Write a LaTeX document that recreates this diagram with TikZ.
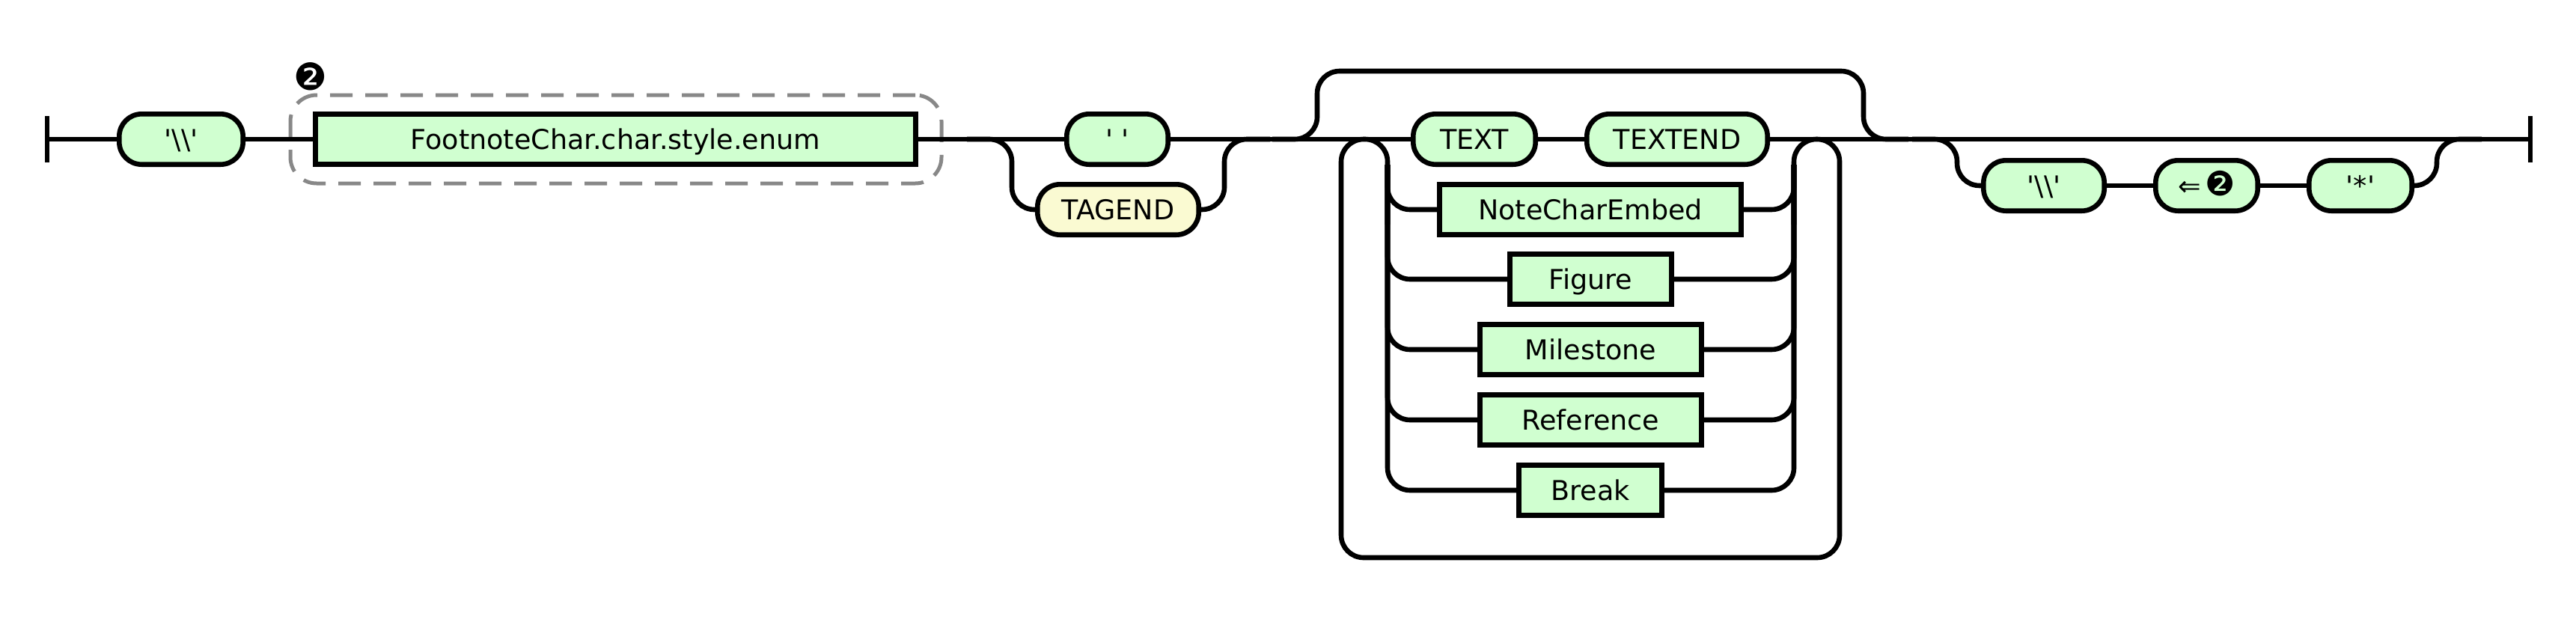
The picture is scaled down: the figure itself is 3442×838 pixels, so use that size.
\documentclass[tikz,border=0pt]{standalone}
\usepackage{fontspec}
\newfontfamily\rrfont{DejaVu Sans}
\definecolor{termgreen}{HTML}{D0FFD0}
\definecolor{tagyellow}{HTML}{FAFAD2}
\definecolor{grpgray}{HTML}{888888}
\begin{document}
\begin{tikzpicture}[x=1pt,y=-1pt,
  rail/.style={line width=6.6pt, rounded corners=30pt},
  term/.style={draw, line width=6.6pt, fill=termgreen, rounded corners=30pt,
    minimum height=67.4pt, inner sep=0pt, text height=26pt, text depth=0pt,
    font=\rrfont\fontsize{36.5}{40}\selectfont},
  nterm/.style={term, rounded corners=0pt},
  tagterm/.style={term, fill=tagyellow},
  grp/.style={draw=grpgray, line width=5pt, dash pattern=on 30pt off 17pt, rounded corners=35pt},
  lbl/.style={inner sep=0pt, font=\rrfont\fontsize{50}{52}\selectfont}]
\useasboundingbox (0,0) rectangle (3442,838);
% start / end
\coordinate (s) at (63,186);
\coordinate (e) at (3381,186);
\draw[line width=6.6pt] (63,155) -- (63,217);
\draw[line width=6.6pt] (3381,155) -- (3381,217);
% group box and its label
\node[grp, minimum width=870pt, minimum height=118pt] (grpbox) at (823,186) {};
\node[lbl] (grplbl) at (415,102) {❷};
% nodes
\node[term, minimum width=165.4pt] (bs1) at (242,186) {'\textbackslash\textbackslash'};
\node[nterm, minimum width=802.4pt] (fc) at (822.5,186) {FootnoteChar.char.style.enum};
\node[term, minimum width=135.4pt] (q) at (1493,186) {'\ '};
\node[tagterm, minimum width=215.4pt] (tag) at (1494,280) {TAGEND};
\node[term, minimum width=163.4pt] (txt) at (1970,186) {TEXT};
\node[term, minimum width=241.4pt] (txe) at (2241,186) {TEXTEND};
\node[nterm, minimum width=403.4pt] (nce) at (2125,280) {NoteCharEmbed};
\node[nterm, minimum width=216.4pt] (fig) at (2125.5,373) {Figure};
\node[nterm, minimum width=296.4pt] (mil) at (2125.5,467) {Milestone};
\node[nterm, minimum width=296.4pt] (ref) at (2125.5,561) {Reference};
\node[nterm, minimum width=191.4pt] (brk) at (2125,655) {Break};
\node[term, minimum width=161.4pt] (bs2) at (2731,248) {'\textbackslash\textbackslash'};
\node[term, minimum width=136.4pt] (back) at (2948.5,248) {⇐\,{\fontsize{45}{48}\selectfont ❷}};
\node[term, minimum width=137.4pt] (star) at (3154,248) {'*'};
% main line
\draw[rail] (s) -- (bs1.west);
\draw[rail] (bs1.east) -- (fc.west);
\draw[rail] (fc.east) -- (q.west);
\draw[rail] (q.east) -- (txt.west);
\draw[rail] (txt.east) -- (txe.west);
\draw[rail] (txe.east) -- (e);
% choice ' ' / TAGEND
\draw[rail] (1292,186) -- (1352,186) -- (1352,280) -- (tag.west);
\draw[rail] (tag.east) -- (1636,280) -- (1636,186) -- (1697,186);
% optional bypass over the loop
\draw[rail] (1700,186) -- (1760,186) -- (1760,95) -- (2490,95) -- (2490,186) -- (2550,186);
% loop
\draw[rail] (1854,300) -- (1854,186) -- (1792,186) -- (1792,745) -- (2458,745) -- (2458,186) -- (2397,186) -- (2397,300);
% choice alternatives
\foreach \n/\yy in {nce/280, fig/373, mil/467, ref/561, brk/655} {
  \draw[rail] (1854,220) -- (1854,\yy) -- (\n.west);
  \draw[rail] (\n.east) -- (2397,\yy) -- (2397,220);
}
% optional tail
\draw[rail] (2555,186) -- (2615,186) -- (2615,248) -- (bs2.west);
\draw[rail] (bs2.east) -- (back.west);
\draw[rail] (back.east) -- (star.west);
\draw[rail] (star.east) -- (3256,248) -- (3256,186) -- (3316,186);
\end{tikzpicture}
\end{document}
